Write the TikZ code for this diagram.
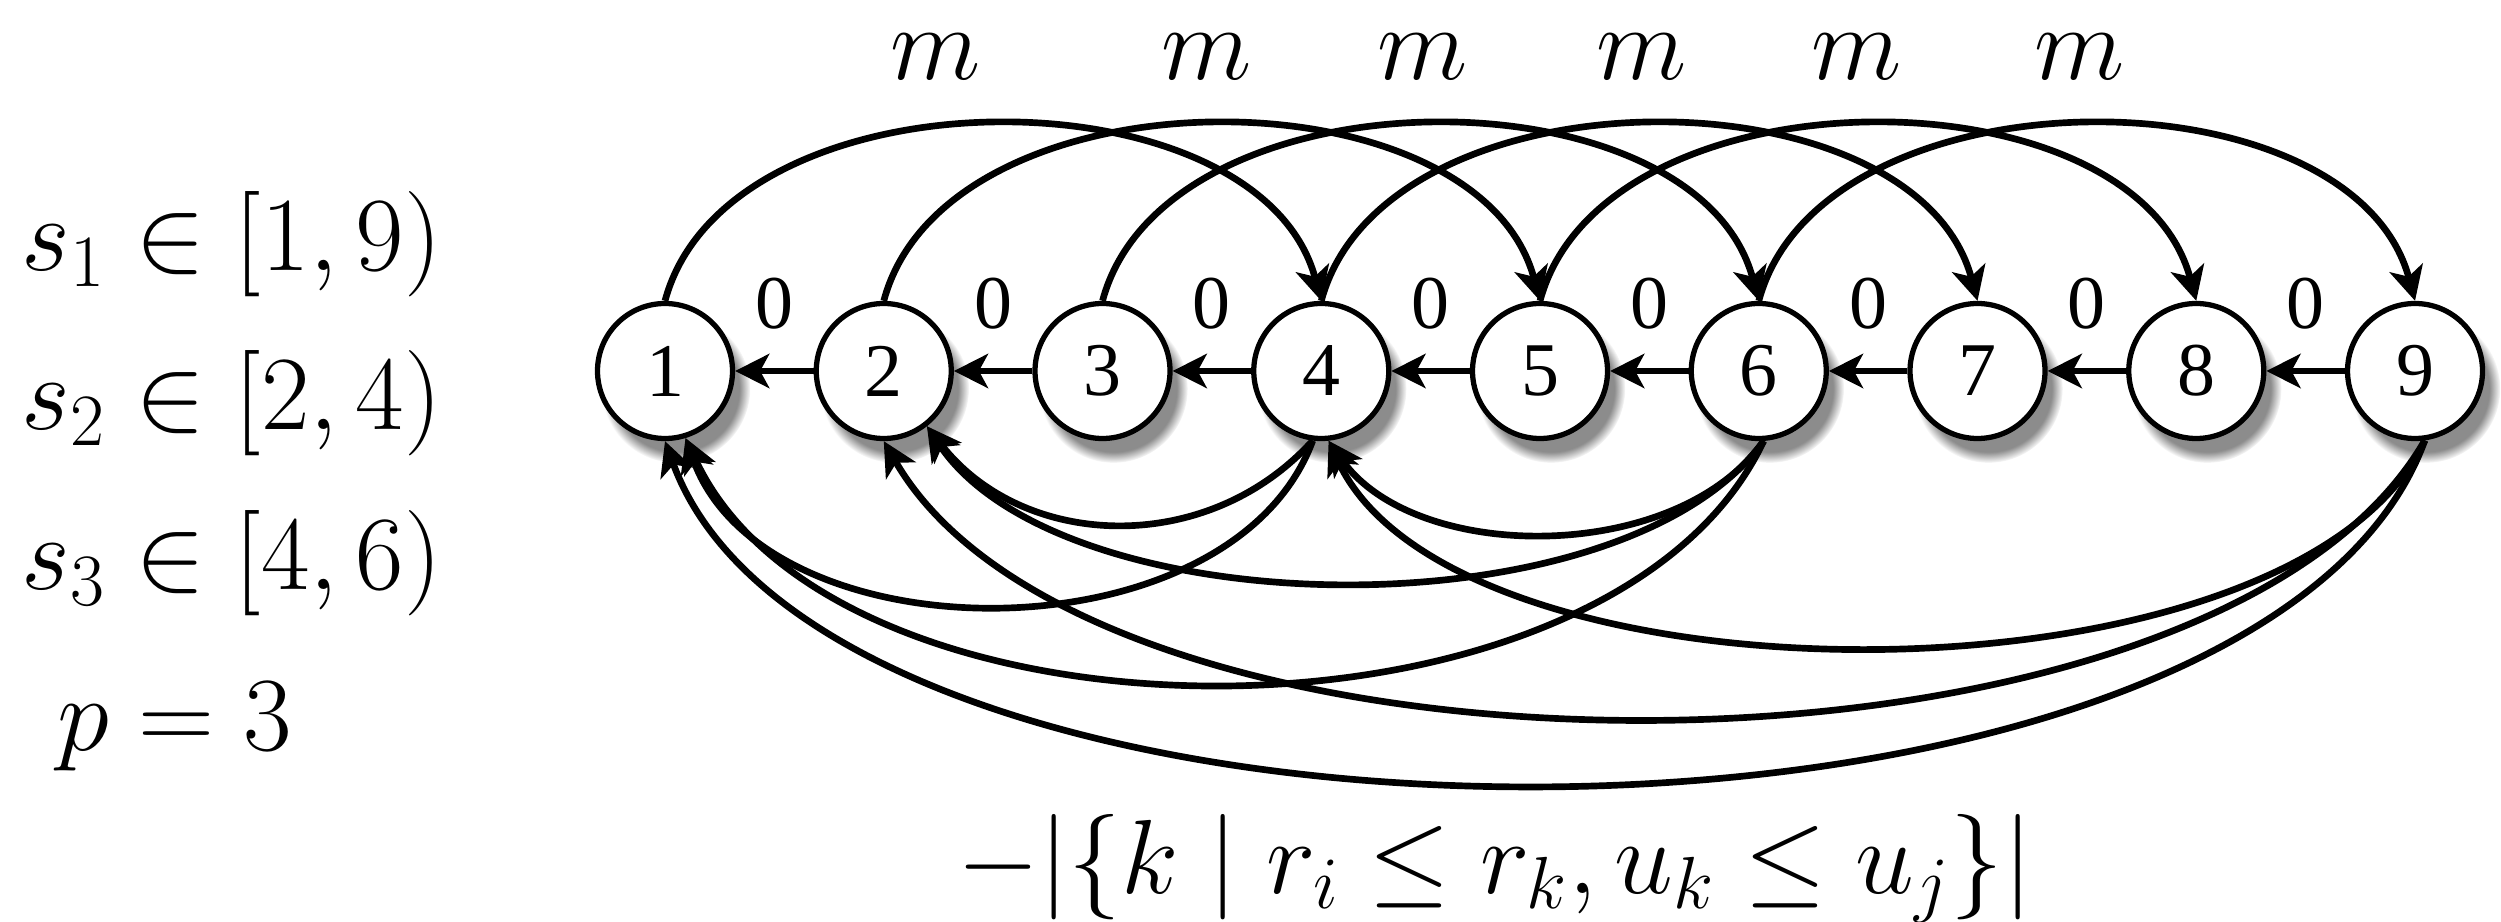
\RequirePackage{fix-cm}
\documentclass[tikz,border=0pt]{standalone}
\usepackage{amsmath,amssymb}
\usepackage{fontspec}
\newfontfamily\vtxfont{Liberation Serif}
\usepackage{tikz}
\usetikzlibrary{arrows.meta, positioning, shadows, fadings}
\tikzset{
  vtx/.style={circle, draw=black, line width=1.5pt, fill=white, inner sep=0pt,
              minimum size=13.5mm, font=\vtxfont\fontsize{21.6}{26}\selectfont,
              circular drop shadow={shadow xshift=1mm, shadow yshift=-1.6mm,
                                    opacity=0.75, fill=black!60}},
  zero/.style={font=\vtxfont\fontsize{21.6}{26}\selectfont, inner sep=0pt,
               above=3.8mm},
  lbl/.style={font=\fontsize{30}{36}\selectfont, inner sep=0pt},
  arc/.style={-{Stealth[length=3.4mm, width=3.4mm, inset=0.9mm]},
              line width=1.9pt}
}
\begin{document}
\begin{tikzpicture}
  \useasboundingbox (0,0) rectangle (25.01,-9.22);
  % the chain of jobs
  \foreach \i in {1,...,9}
    \node[vtx] (n\i) at ({6.65+2.1875*(\i-1)},-3.71) {\i};
  \foreach \i [count=\j from 2] in {1,...,8}
    \draw[arc] (n\j) -- node[zero] {0} (n\i);
  % edges of weight m
  \foreach \i [count=\j from 4] in {1,...,6}
    \draw[arc] (n\i.north) to[bend left=75, looseness=0.95] (n\j.north);
  \foreach \x [count=\k] in {9.36,12.07,14.23,16.42,18.57,20.80}
    \node[lbl, anchor=base] (m\k) at (\x,-0.80) {$m$};
  % backward edges
  \foreach \s/\sa/\t/\ta/\b/\l in {4/-97/2/-52/50/1.04, 4/-97/1/-73/70/0.96,
      6/-86/4/-84/55/0.89, 6/-86/2/-52/55/0.74, 6/-86/1/-73/65/0.85,
      9/-82/4/-84/65/0.71, 9/-82/2/-90/60/0.71, 9/-82/1/-90/70/0.71}
    \draw[arc] (n\s.\sa) to[bend left=\b, looseness=\l] (n\t.\ta);
  % intervals
  \node[lbl, anchor=base west] (s1) at (0.21,-2.71) {$s_1 \in [1,9)$};
  \node[lbl, anchor=base west] (s2) at (0.21,-4.30) {$s_2 \in [2,4)$};
  \node[lbl, anchor=base west] (s3) at (0.21,-5.90) {$s_3 \in [4,6)$};
  \node[lbl, anchor=base west] (p) at (0.57,-7.51) {$p = 3$};
  \node[lbl, anchor=base] (cost) at (14.95,-8.93)
    {$-|\{k \mid r_i \le r_k, u_k \le u_j\}|$};
\end{tikzpicture}
\end{document}
